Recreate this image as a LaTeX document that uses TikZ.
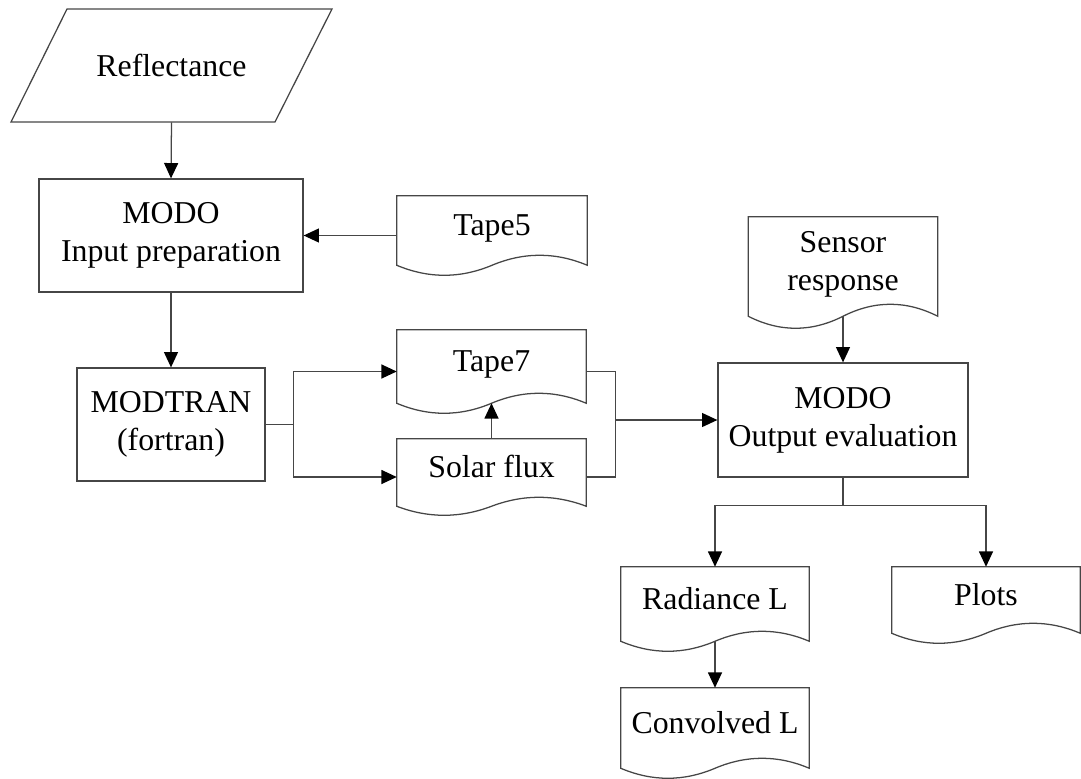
\documentclass[tikz,border=0pt]{standalone}
\usepackage{fontspec}
\setmainfont{Liberation Serif}
\usetikzlibrary{arrows.meta,calc}
\definecolor{ln}{RGB}{70,70,70}
\tikzset{
  bw/.style={minimum width=#1*0.75pt},
  bh/.style={minimum height=#1*0.75pt},
  every node/.style={font=\fontsize{23.85}{28.5}\selectfont, inner sep=0pt},
  proc/.style={draw=ln, line width=0.95pt, align=center},
  doc/.style={text height=10pt, text depth=10pt},
  conn/.style={draw=ln, line width=0.95pt},
  arr/.style={conn, -{Triangle[length=11.5pt,width=10.5pt,color=black]}},
  outl/.style={draw=ln, line width=0.95pt},
}
% #1 node name, #2 wave amplitude (px)
\newcommand\docoutline[2]{%
  \draw[outl] (#1.north west) -- (#1.north east) -- ($(#1.south east)+(0,-#2)$)
    .. controls ($(#1.south east)!1/3!(#1.south)+(0,-7/3*#2)$) and ($(#1.south east)!2/3!(#1.south)+(0,-7/3*#2)$) .. ($(#1.south)+(0,-#2)$)
    .. controls ($(#1.south)!1/3!(#1.south west)+(0,1/3*#2)$) and ($(#1.south)!2/3!(#1.south west)+(0,1/3*#2)$) .. ($(#1.south west)+(0,-#2)$)
    -- cycle;}
\begin{document}
\begin{tikzpicture}[x=0.75pt,y=-0.75pt]
\useasboundingbox (0,0) rectangle (1081,778);

% Reflectance (parallelogram)
\node[bw=264,bh=113] (refl) at (171.5,65.5) {Reflectance};
\draw[outl] (refl.center) ++(-104.5,-56.5) -- ++(265,0) -- ++(-57,113) -- ++(-264,0) -- cycle;

% process boxes
\node[proc,bw=264,bh=113] (inp) at (171,235.5) {MODO\\Input preparation};
\node[proc,bw=188,bh=113] (modtran) at (171,424.5) {MODTRAN\\(fortran)};
\node[proc,bw=250,bh=114] (outp) at (843,420) {MODO\\Output evaluation};

% documents
\node[doc,bw=190,bh=79] (tape5) at (492,235.5) {Tape5};
\node[doc,bw=189,bh=83] (tape7) at (491.5,371.5) {Tape7};
\node[doc,bw=189,bh=76] (solar) at (491.5,477) {Solar flux};
\node[doc,bw=189,bh=111] (sensor) at (843,272.5) {\begin{tabular}{@{}c@{}}Sensor\\response\end{tabular}};
\node[doc,bw=188,bh=84] (rad) at (715,609) {Radiance L};
\node[doc,bw=188,bh=76] (plots) at (986,605) {Plots};
\node[doc,bw=188,bh=90] (conv) at (715,733) {Convolved L};

\docoutline{tape5}{10}
\docoutline{tape7}{10}
\docoutline{solar}{9}
\docoutline{sensor}{12}
\docoutline{rad}{10}
\docoutline{plots}{10}
\docoutline{conv}{10}

% connectors
\draw[arr] (refl.south) -- (inp.north);
\draw[arr] (tape5.west) -- (inp.east);
\draw[arr] (inp.south) -- (modtran.north);

\coordinate (j1) at ($(modtran.east)+(28,0)$);
\draw[conn] (modtran.east) -- (j1);
\draw[arr] (j1) |- (tape7.west);
\draw[arr] (j1) |- (solar.west);

\draw[arr] (solar.north) -- ($(tape7.south)+(0,-10)$);

\coordinate (j2) at ($(tape7.east)+(29,0)$);
\draw[conn] (tape7.east) -- (j2) |- (solar.east);
\draw[arr] (j2 |- outp.west) -- (outp.west);

\draw[arr] ($(sensor.south)+(0,-12)$) -- (outp.north);

\coordinate (j3) at ($(outp.south)+(0,28)$);
\draw[conn] (outp.south) -- (j3);
\draw[arr] (j3) -| (rad.north);
\draw[arr] (j3) -| (plots.north);

\draw[arr] ($(rad.south)+(0,-10)$) -- (conv.north);
\end{tikzpicture}
\end{document}
